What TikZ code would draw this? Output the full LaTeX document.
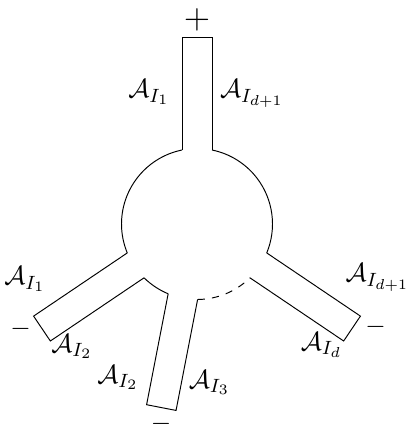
\documentclass[tikz,border=0pt]{standalone}
\usepackage{amsmath}
\DeclareMathSizes{10.6}{10.6}{8}{6.2}
\begin{document}
\begin{tikzpicture}[x=0.41667pt,y=0.41667pt,
  lbl/.style={inner sep=0pt,anchor=base,font=\fontsize{10.6}{13}\selectfont},
  sgn/.style={inner sep=0pt,anchor=center,font=\fontsize{10.6}{13}\selectfont},
  wire/.style={line width=0.4pt}]
\useasboundingbox (-197,-205) rectangle (211,224);
% arms
\foreach \t/\nm in {90/top,214/left,259/bottom,326/right}{
  \draw[wire,rotate=\t] (74,15) -- (187,15) -- (187,-15) -- (74,-15);
}
% central circle pieces
\draw[wire] (101.46:75.5) arc[start angle=101.46,end angle=202.54,radius=75.5];
\draw[wire] (225.46:75.5) arc[start angle=225.46,end angle=247.54,radius=75.5];
\draw[wire,dashed] (270.46:75.5) arc[start angle=270.46,end angle=314.54,radius=75.5];
\draw[wire] (337.46:75.5) arc[start angle=337.46,end angle=438.54,radius=75.5];
% labels
\node[lbl] (t1) at (-48,126) {$\mathcal{A}_{I_1}$};
\node[lbl] (t2) at (55,126) {$\mathcal{A}_{I_{d+1}}$};
\node[lbl] (l1) at (-172,-61) {$\mathcal{A}_{I_1}$};
\node[lbl] (l2) at (-125,-128) {$\mathcal{A}_{I_2}$};
\node[lbl] (b1) at (-79,-159) {$\mathcal{A}_{I_2}$};
\node[lbl] (b2) at (12.5,-164) {$\mathcal{A}_{I_3}$};
\node[lbl] (r1) at (180.5,-58) {$\mathcal{A}_{I_{d+1}}$};
\node[lbl] (r2) at (124.5,-126) {$\mathcal{A}_{I_d}$};
\node[sgn,font=\fontsize{13.5}{16}\selectfont] (plus) at (0,204) {$+$};
\node[sgn] (ml) at (-176.5,-105) {$-$};
\node[sgn] (mb) at (-36,-200) {$-$};
\node[sgn] (mr) at (178.5,-103) {$-$};
\end{tikzpicture}
\end{document}
